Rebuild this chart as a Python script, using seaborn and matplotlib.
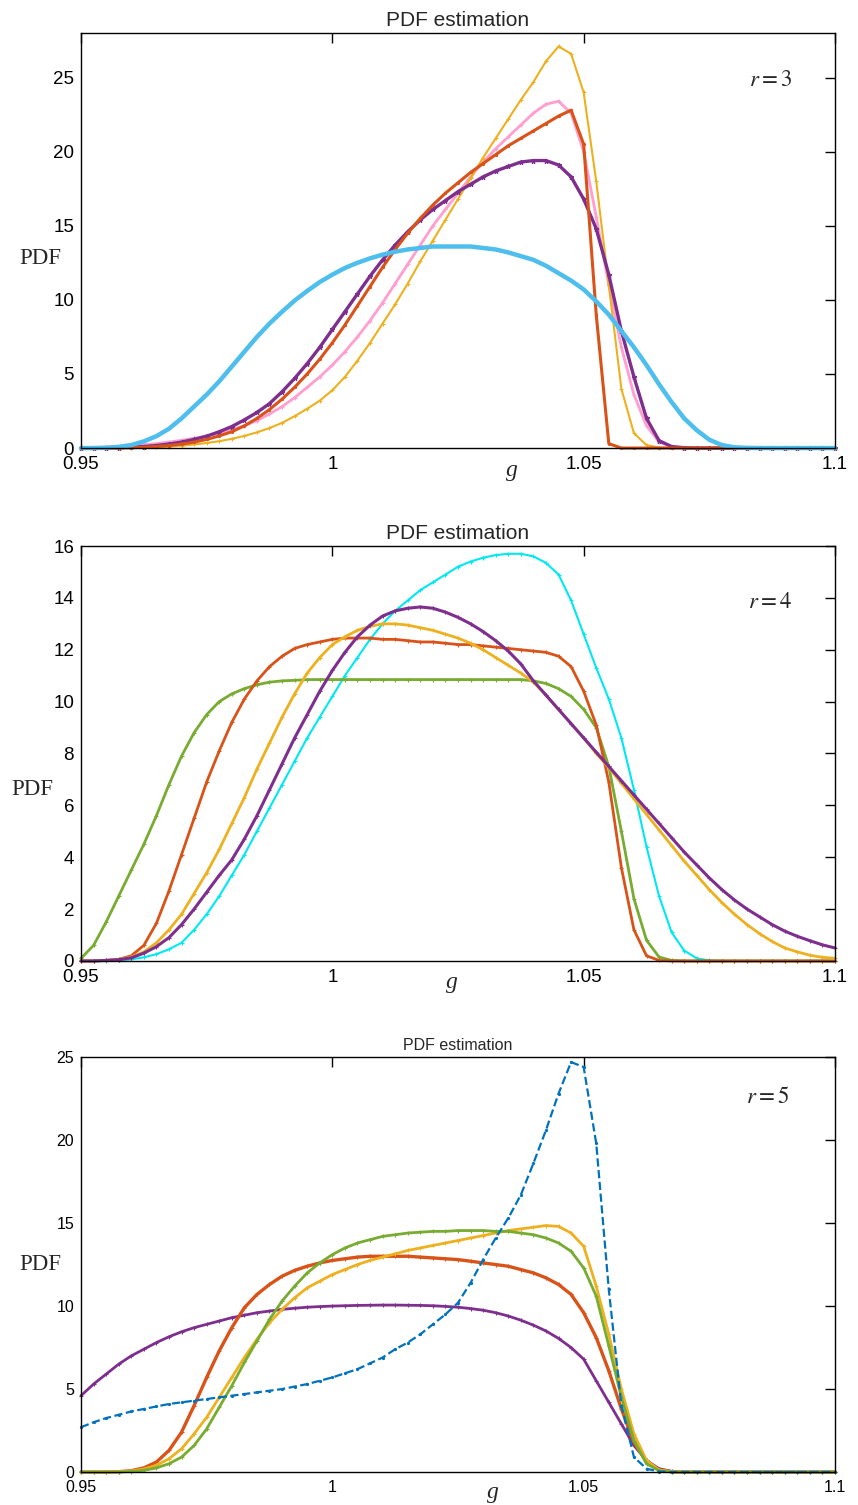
import numpy as np
import seaborn as sns
import matplotlib
matplotlib.use("Agg")
import matplotlib.pyplot as plt

# sample positions of g (step 0.0025 from 0.95 to 1.1)
g = np.round(np.arange(0.95, 1.10001, 0.0025), 4)

# ---- r = 3 ----
blue_r3 = [0, 0, 0.02, 0.08, 0.2, 0.45, 0.8, 1.3, 2.0, 2.8,
           3.6, 4.5, 5.5, 6.5, 7.5, 8.4, 9.2, 9.95, 10.6, 11.2,
           11.7, 12.15, 12.5, 12.8, 13.05, 13.25, 13.4, 13.5, 13.6, 13.6,
           13.6, 13.6, 13.5, 13.4, 13.2, 12.95, 12.7, 12.3, 11.8, 11.3,
           10.7, 9.9, 9.0, 7.9, 6.8, 5.6, 4.3, 3.1, 2.0, 1.2,
           0.56, 0.2, 0.05, 0.01, 0, 0, 0, 0, 0, 0,
           0]
yellow_r3 = [0, 0, 0, 0, 0.01, 0.03, 0.06, 0.1, 0.16, 0.24,
             0.34, 0.46, 0.62, 0.82, 1.06, 1.35, 1.7, 2.15, 2.65, 3.2,
             3.9, 4.8, 5.9, 7.1, 8.4, 9.7, 11.1, 12.6, 14.0, 15.4,
             16.8, 18.2, 19.6, 20.9, 22.2, 23.5, 24.7, 26.1, 27.1, 26.6,
             24.0, 18.0, 11.0, 4.0, 1.0, 0.2, 0.03, 0, 0, 0,
             0, 0, 0, 0, 0, 0, 0, 0, 0, 0,
             0]
pink_r3 = [0, 0.03, 0.06, 0.1, 0.15, 0.22, 0.3, 0.4, 0.52, 0.66,
           0.82, 1.0, 1.25, 1.5, 1.85, 2.3, 2.8, 3.4, 4.1, 4.8,
           5.6, 6.5, 7.5, 8.6, 9.8, 11.1, 12.4, 13.7, 15.0, 16.1,
           17.2, 18.3, 19.3, 20.2, 21.0, 21.8, 22.6, 23.2, 23.4, 22.6,
           20.0, 15.6, 11.0, 6.8, 3.6, 1.5, 0.4, 0.1, 0, 0,
           0, 0, 0, 0, 0, 0, 0, 0, 0, 0,
           0]
orange_r3 = [0, 0, 0, 0, 0.02, 0.05, 0.1, 0.17, 0.27, 0.4,
             0.58, 0.82, 1.1, 1.5, 2.0, 2.6, 3.3, 4.1, 5.0, 6.0,
             7.1, 8.3, 9.6, 10.9, 12.2, 13.4, 14.5, 15.5, 16.4, 17.2,
             17.9, 18.6, 19.2, 19.8, 20.4, 20.9, 21.4, 21.9, 22.4, 22.8,
             20.5, 9.0, 0.3, 0, 0, 0, 0, 0, 0, 0,
             0, 0, 0, 0, 0, 0, 0, 0, 0, 0,
             0]
purple_r3 = [0, 0, 0.01, 0.03, 0.06, 0.1, 0.17, 0.27, 0.4, 0.58,
             0.8, 1.1, 1.45, 1.9, 2.4, 3.0, 3.8, 4.7, 5.7, 6.8,
             8.0, 9.2, 10.4, 11.6, 12.7, 13.7, 14.6, 15.4, 16.1, 16.7,
             17.3, 17.8, 18.3, 18.7, 19.0, 19.3, 19.4, 19.4, 19.1, 18.3,
             16.8, 14.8, 11.7, 7.9, 4.8, 2.0, 0.5, 0.1, 0.02, 0,
             0, 0, 0, 0, 0, 0, 0, 0, 0, 0,
             0]

# ---- r = 4 ----
cyan_r4 = [0, 0, 0, 0.02, 0.06, 0.14, 0.26, 0.45, 0.7, 1.2,
           1.8, 2.5, 3.3, 4.1, 5.0, 5.9, 6.8, 7.7, 8.6, 9.4,
           10.2, 11.0, 11.7, 12.4, 13.0, 13.5, 13.9, 14.3, 14.6, 14.9,
           15.2, 15.4, 15.55, 15.65, 15.7, 15.7, 15.6, 15.35, 14.9, 13.9,
           12.6, 11.3, 10.1, 8.6, 6.6, 4.4, 2.5, 1.1, 0.4, 0.1,
           0.02, 0, 0, 0, 0, 0, 0, 0, 0, 0,
           0]
orange_r4 = [0, 0, 0.02, 0.06, 0.2, 0.6, 1.45, 2.7, 4.1, 5.5,
             6.9, 8.1, 9.2, 10.1, 10.8, 11.35, 11.75, 12.05, 12.2, 12.3,
             12.4, 12.45, 12.45, 12.45, 12.4, 12.4, 12.35, 12.3, 12.3, 12.25,
             12.2, 12.2, 12.15, 12.1, 12.05, 12.0, 11.95, 11.9, 11.75, 11.35,
             10.4, 9.1, 6.9, 3.6, 1.2, 0.2, 0.02, 0, 0, 0,
             0, 0, 0, 0, 0, 0, 0, 0, 0, 0,
             0]
yellow_r4 = [0, 0, 0.02, 0.06, 0.15, 0.35, 0.7, 1.2, 1.8, 2.6,
             3.4, 4.3, 5.3, 6.3, 7.4, 8.4, 9.4, 10.3, 11.1, 11.7,
             12.2, 12.5, 12.75, 12.9, 13.0, 13.0, 12.95, 12.85, 12.75, 12.6,
             12.45, 12.25, 12.0, 11.7, 11.4, 11.1, 10.75, 10.25, 9.7, 9.15,
             8.6, 8.0, 7.45, 6.85, 6.25, 5.65, 5.05, 4.45, 3.85, 3.3,
             2.75, 2.25, 1.8, 1.4, 1.05, 0.75, 0.5, 0.35, 0.22, 0.14,
             0.1]
purple_r4 = [0, 0, 0.02, 0.05, 0.12, 0.3, 0.55, 0.9, 1.4, 2.0,
             2.65, 3.3, 3.9, 4.7, 5.6, 6.6, 7.6, 8.6, 9.5, 10.4,
             11.2, 11.9, 12.5, 12.95, 13.3, 13.5, 13.6, 13.65, 13.6, 13.45,
             13.25, 13.0, 12.7, 12.35, 11.95, 11.45, 10.8, 10.25, 9.7, 9.15,
             8.6, 8.05, 7.5, 6.95, 6.4, 5.85, 5.3, 4.75, 4.2, 3.7,
             3.2, 2.75, 2.35, 2.0, 1.7, 1.4, 1.15, 0.95, 0.78, 0.62,
             0.5]
green_r4 = [0.1, 0.6, 1.5, 2.5, 3.5, 4.5, 5.6, 6.8, 7.9, 8.8,
            9.5, 10.0, 10.3, 10.5, 10.65, 10.75, 10.8, 10.82, 10.85, 10.85,
            10.85, 10.85, 10.85, 10.85, 10.85, 10.85, 10.85, 10.85, 10.85, 10.85,
            10.85, 10.85, 10.85, 10.85, 10.85, 10.85, 10.8, 10.7, 10.5, 10.2,
            9.7, 9.0, 7.5, 5.0, 2.4, 0.8, 0.15, 0.02, 0, 0,
            0, 0, 0, 0, 0, 0, 0, 0, 0, 0,
            0]

# ---- r = 5 ----
blue_r5 = [2.7, 3.0, 3.25, 3.45, 3.65, 3.8, 3.95, 4.1, 4.2, 4.3,
           4.4, 4.5, 4.6, 4.7, 4.8, 4.9, 5.0, 5.15, 5.3, 5.5,
           5.7, 5.95, 6.2, 6.55, 6.9, 7.4, 7.8, 8.3, 8.9, 9.5,
           10.2, 11.4, 12.8, 14.1, 15.3, 16.7, 18.6, 20.6, 22.8, 24.7,
           24.4, 19.8, 11.0, 4.0, 0.9, 0.2, 0.03, 0, 0, 0,
           0, 0, 0, 0, 0, 0, 0, 0, 0, 0,
           0]
purple_r5 = [4.6, 5.3, 5.9, 6.5, 7.0, 7.4, 7.8, 8.15, 8.45, 8.7,
             8.9, 9.1, 9.3, 9.45, 9.6, 9.7, 9.8, 9.87, 9.93, 9.97,
             10.0, 10.02, 10.04, 10.05, 10.06, 10.06, 10.05, 10.04, 10.02, 9.98,
             9.93, 9.85, 9.75, 9.6, 9.4, 9.15, 8.85, 8.5, 8.05, 7.5,
             6.8, 5.5, 4.2, 2.9, 1.6, 0.7, 0.2, 0.04, 0, 0,
             0, 0, 0, 0, 0, 0, 0, 0, 0, 0,
             0]
orange_r5 = [0, 0, 0, 0.02, 0.08, 0.25, 0.6, 1.3, 2.4, 4.0,
             5.7, 7.3, 8.7, 9.9, 10.7, 11.3, 11.8, 12.15, 12.4, 12.6,
             12.75, 12.85, 12.95, 13.0, 13.0, 13.0, 13.0, 12.95, 12.9, 12.85,
             12.8, 12.7, 12.6, 12.5, 12.4, 12.2, 12.0, 11.7, 11.3, 10.7,
             9.6, 8.1, 6.1, 3.8, 1.8, 0.6, 0.15, 0.02, 0, 0,
             0, 0, 0, 0, 0, 0, 0, 0, 0, 0,
             0]
yellow_r5 = [0, 0, 0, 0.02, 0.06, 0.18, 0.4, 0.8, 1.4, 2.3,
             3.3, 4.5, 5.7, 6.9, 8.0, 9.0, 9.8, 10.5, 11.1, 11.5,
             11.9, 12.2, 12.5, 12.75, 12.95, 13.15, 13.35, 13.5, 13.65, 13.8,
             13.95, 14.1, 14.25, 14.4, 14.55, 14.65, 14.75, 14.85, 14.8, 14.4,
             13.6, 11.2, 8.3, 5.0, 2.3, 0.7, 0.12, 0.02, 0, 0,
             0, 0, 0, 0, 0, 0, 0, 0, 0, 0,
             0]
green_r5 = [0, 0, 0, 0, 0.03, 0.1, 0.25, 0.5, 0.9, 1.6,
            2.6, 3.9, 5.2, 6.6, 7.9, 9.2, 10.3, 11.2, 12.0, 12.6,
            13.1, 13.5, 13.8, 14.0, 14.2, 14.3, 14.4, 14.45, 14.5, 14.5,
            14.55, 14.55, 14.55, 14.5, 14.5, 14.4, 14.3, 14.1, 13.8, 13.3,
            12.3, 10.6, 7.6, 4.5, 1.9, 0.5, 0.08, 0, 0, 0,
            0, 0, 0, 0, 0, 0, 0, 0, 0, 0,
            0]

xticks = [0.95, 1.0, 1.05, 1.1]
xticklabels = ["0.95", "1", "1.05", "1.1"]

# matlab default colours
C_BLUE = "#0072BD"
C_ORANGE = "#D95319"
C_YELLOW = "#EDB120"
C_PURPLE = "#7E2F8E"
C_GREEN = "#77AC30"
C_LBLUE = "#4DBEEE"
C_CYAN = "#00E8F0"
C_PINK = "#FF9ECF"

sns.set_style("white")
plt.rcParams["font.family"] = ["Liberation Sans", "DejaVu Sans"]
plt.rcParams["mathtext.fontset"] = "stix"
plt.rcParams["xtick.direction"] = "in"
plt.rcParams["ytick.direction"] = "in"
plt.rcParams["xtick.top"] = True
plt.rcParams["ytick.right"] = True

fig = plt.figure(figsize=(8.58, 15.05), dpi=100)

# (curve, color, linestyle, linewidth, marker, markersize)
panels = [
    dict(pos=[0.0944, 0.7023, 0.8788, 0.2757], ymax=28, yticks=range(0, 26, 5),
         r="3", tick_fs=13.5, title_fs=15, rpos=(0.914, 0.887),
         ylab=(-0.054, 0.458), xlab=(0.572, -0.053),
         curves=[(pink_r3, C_PINK, "-", 2.0, "+", 3),
                 (yellow_r3, C_YELLOW, "-", 1.5, "+", 3),
                 (purple_r3, C_PURPLE, "-", 2.4, "*", 3.5),
                 (orange_r3, C_ORANGE, "-", 2.2, ".", 3),
                 (blue_r3, C_LBLUE, "-", 3.2, None, 0)]),
    dict(pos=[0.0944, 0.3615, 0.8788, 0.2757], ymax=16, yticks=range(0, 17, 2),
         r="4", tick_fs=13.5, title_fs=15, rpos=(0.914, 0.867),
         ylab=(-0.065, 0.414), xlab=(0.492, -0.053),
         curves=[(cyan_r4, C_CYAN, "-", 1.5, "+", 3),
                 (green_r4, C_GREEN, "-", 2.0, "+", 3),
                 (orange_r4, C_ORANGE, "-", 2.0, "+", 3),
                 (yellow_r4, C_YELLOW, "-", 2.0, "+", 3),
                 (purple_r4, C_PURPLE, "-", 2.2, "+", 3)]),
    dict(pos=[0.0944, 0.0219, 0.8788, 0.2757], ymax=25, yticks=range(0, 26, 5),
         r="5", tick_fs=11.5, title_fs=11.5, rpos=(0.91, 0.904),
         ylab=(-0.054, 0.499), xlab=(0.546, -0.05),
         curves=[(purple_r5, C_PURPLE, "-", 2.0, "+", 3),
                 (orange_r5, C_ORANGE, "-", 2.4, "+", 3),
                 (yellow_r5, C_YELLOW, "-", 2.0, "+", 3),
                 (green_r5, C_GREEN, "-", 2.0, "+", 3),
                 (blue_r5, C_BLUE, "--", 1.6, ".", 3)]),
]

for p in panels:
    ax = fig.add_axes(p["pos"])
    for vals, col, ls, lw, mk, ms in p["curves"]:
        sns.lineplot(x=g, y=vals, ax=ax, color=col, linestyle=ls, lw=lw,
                     marker=mk, markersize=ms, markeredgewidth=0.8,
                     markeredgecolor=col, estimator=None, sort=False,
                     clip_on=False)

    ax.set_xlim(0.95, 1.1)
    ax.set_ylim(0, p["ymax"])
    ax.set_xticks(xticks)
    ax.set_xticklabels(xticklabels)
    ax.set_yticks(list(p["yticks"]))
    ax.tick_params(length=7, width=1, color="black", labelsize=p["tick_fs"],
                   labelcolor="black")
    ax.tick_params(axis="x", pad=6)
    ax.tick_params(axis="y", pad=5)
    for s in ax.spines.values():
        s.set_color("black")
        s.set_linewidth(1.0)

    ax.set_title("PDF estimation", fontsize=p["title_fs"], pad=5)
    ax.set_ylabel("PDF", rotation=0, fontsize=16.5, va="center", ha="center",
                  family=["Liberation Serif", "DejaVu Serif"])
    ax.yaxis.set_label_coords(*p["ylab"])
    ax.set_xlabel("g", fontsize=17, style="italic", va="center",
                  family=["Liberation Serif", "DejaVu Serif"])
    ax.xaxis.set_label_coords(*p["xlab"])
    ax.text(p["rpos"][0], p["rpos"][1], "$r = %s$" % p["r"], transform=ax.transAxes,
            fontsize=16.5, ha="center", va="center")

fig.savefig("out.png", dpi=100)
